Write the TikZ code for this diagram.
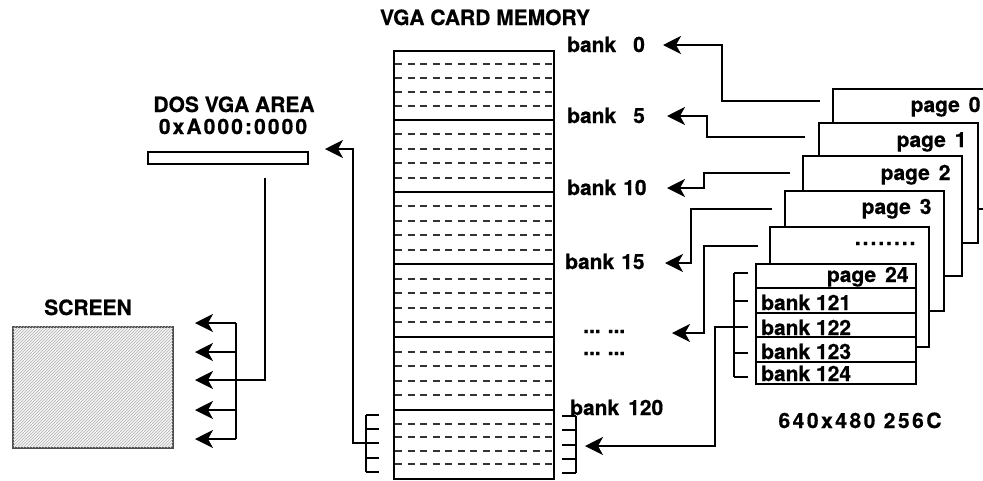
\documentclass[tikz,border=0pt]{standalone}
\usepackage{fontspec}
\setmainfont{TeX Gyre Heros}[BoldFeatures={FakeBold=0.6}]
\usetikzlibrary{arrows.meta, positioning, patterns, calc}

\begin{document}
\begin{tikzpicture}[x=1pt, y=-1pt,
  lbl/.style={font=\fontsize{21}{25}\selectfont\bfseries, inner sep=0pt},
  ttl/.style={font=\fontsize{21}{25}\selectfont\bfseries, inner sep=0pt},
  box/.style={rectangle, draw, line width=1.7pt, inner sep=0pt, anchor=north west},
  pagebox/.style={box, fill=white, minimum width=159pt, minimum height=120pt},
  ln/.style={line width=1.6pt},
  sub/.style={line width=2pt, draw=black!80, dash pattern=on 7pt off 5.5pt},
  arr/.style={ln, -{Stealth[length=18pt, width=18pt, inset=5pt]}}]

  \useasboundingbox (0,0) rectangle (983,480);

  % card memory
  \node[ttl, anchor=base] (memttl) at (485,25) {VGA CARD MEMORY};
  \node[box, minimum width=160pt, minimum height=428pt] (mem) at (393,50) {};
  \foreach \t/\b in {50/120,120/192,192/264,264/337,337/410,410/478}{
    \foreach \k in {1,...,4}{
      \pgfmathsetmacro\yy{\t+\k*(\b-\t)/5}
      \draw[sub] (395,\yy) -- (552,\yy);
    }
  }
  \foreach \y in {120,192,264,337,410} \draw[ln] (393,\y) -- (553,\y);

  \node[lbl, anchor=base west] (b0) at (567,52) {bank\hspace{17pt}0};
  \node[lbl, anchor=base west] (b5) at (567,123) {bank\hspace{17pt}5};
  \node[lbl, anchor=base west] (b10) at (567,195) {bank\hspace{7pt}10};
  \node[lbl, anchor=base west] (b15) at (565,269) {bank\hspace{7pt}15};
  \node[lbl, anchor=base west] (d1) at (583,333) {...\hspace{7pt}...};
  \node[lbl, anchor=base west] (d2) at (583,355) {...\hspace{7pt}...};
  \node[lbl, anchor=base west] (b120) at (570,415) {bank\hspace{9pt}120};

  % brackets on the last bank group
  \draw[ln] (366,415) -- (366,472);
  \foreach \y in {415,429,443,458,472} \draw[ln] (366,\y) -- (379,\y);
  \draw[ln] (576,416) -- (576,473);
  \foreach \y in {416,430,445,459,473} \draw[ln] (562,\y) -- (576,\y);

  % pages
  \node[pagebox] (p0) at (832,88) {};
  \node[pagebox] (p1) at (818,122) {};
  \node[pagebox] (p2) at (802,155) {};
  \node[pagebox] (p3) at (784,190) {};
  \node[pagebox] (p4) at (769,226) {};
  \node[pagebox, minimum width=160pt] (p24) at (755,263) {};
  \node[lbl, anchor=base east] (p0l) at ($(p0.north east)+(-12,24)$) {page\hspace{9pt}0};
  \node[lbl, anchor=base east] (p1l) at ($(p1.north east)+(-12,25)$) {page\hspace{9pt}1};
  \node[lbl, anchor=base east] (p2l) at ($(p2.north east)+(-12,25)$) {page\hspace{9pt}2};
  \node[lbl, anchor=base east] (p3l) at ($(p3.north east)+(-13,24)$) {page\hspace{9pt}3};
  \node[lbl, anchor=base east] (p4l) at ($(p4.north east)+(-14,19)$)
    {.\kern2pt.\kern2pt.\kern2pt.\kern2pt.\kern2pt.\kern2pt.\kern2pt.};
  \node[lbl, anchor=base east] (p24l) at ($(p24.north east)+(-8,19)$) {page\hspace{9pt}24};
  \node[lbl, anchor=base west] (s121) at (761,310) {bank 121};
  \node[lbl, anchor=base west] (s122) at (761,335) {bank 122};
  \node[lbl, anchor=base west] (s123) at (761,359) {bank 123};
  \node[lbl, anchor=base west] (s124) at (761,381) {bank 124};
  \foreach \y in {288,313,337,362} \draw[ln] (755,\y) -- (915,\y);
  \draw[ln] (734,273) -- (734,377);
  \foreach \y in {273,301,327,353,377} \draw[ln] (734,\y) -- (748,\y);
  \node[lbl, anchor=base] (res) at (860,428) {\addfontfeature{LetterSpace=12}640x480 256C};

  % page to bank connectors
  \coordinate (c0) at (820,101);  \coordinate (t0) at (663,45);
  \coordinate (c1) at (805,137);  \coordinate (t5) at (667,116);
  \coordinate (c2) at (790,173);  \coordinate (t10) at (667,188);
  \coordinate (c3) at (772,209);  \coordinate (t15) at (665,263);
  \coordinate (c4) at (758,246);  \coordinate (td) at (672,333);
  \coordinate (c24) at (734,327); \coordinate (t120) at (585,446);
  \draw[arr] (c0) -| ([xshift=59pt]t0) -- (t0);
  \draw[arr] (c1) -| ([xshift=40pt]t5) -- (t5);
  \draw[arr] (c2) -| ([xshift=37pt]t10) -- (t10);
  \draw[arr] (c3) -| ([xshift=26pt]t15) -- (t15);
  \draw[arr] (c4) -| ([xshift=32pt]td) -- (td);
  \draw[arr] (c24) -| ([xshift=130pt]t120) -- (t120);

  % dos area
  \node[ttl, anchor=base] (dosttl) at (234,112) {DOS VGA AREA};
  \node[ttl, anchor=base] (dosaddr) at (233,134) {\addfontfeature{LetterSpace=10}0xA000:0000};
  \node[box, minimum width=160pt, minimum height=12pt] (dos) at (147,151) {};
  \coordinate (mb) at (366,443); \coordinate (tdos) at (325,149);
  \draw[arr] (mb) -| ([xshift=28pt]tdos) -- (tdos);

  % screen
  \node[ttl, anchor=base] (scrttl) at (88,315) {SCREEN};
  \node[box, minimum width=160pt, minimum height=121pt, draw=black!70, fill=black!4,
    postaction={pattern=north east lines, pattern color=black!30}] (scr) at (12,326) {};
  \coordinate (dosout) at (265,178); \coordinate (ts) at (195,380);
  \draw[arr] (dosout) |- (ts);
  \draw[ln] (236,323) -- (236,439);
  \foreach \y in {323,352,410,439} \draw[arr] (236,\y) -- (195,\y);
\end{tikzpicture}
\end{document}
